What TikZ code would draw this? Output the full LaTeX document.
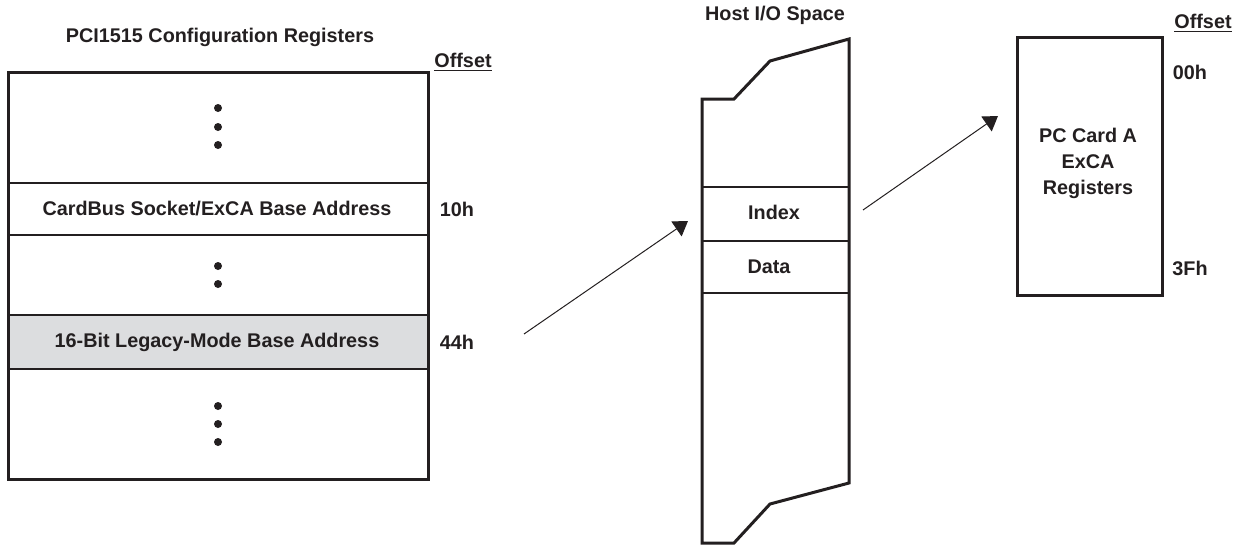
\documentclass[tikz,border=0pt]{standalone}
\usepackage{fontspec}
\setmainfont{Liberation Sans}
\usepackage{tikz}
\usetikzlibrary{arrows.meta,positioning}
\definecolor{ink}{RGB}{35,31,32}
\definecolor{legacy}{RGB}{220,221,223}
\tikzset{lbl/.style={font=\fontsize{9.9}{13}\selectfont\bfseries,text=ink,inner sep=0pt},
         frame/.style={draw=ink,line width=1.5pt,line join=miter},
         sep/.style={draw=ink,line width=1pt},
         link/.style={draw=ink,line width=0.5pt,-{Triangle[length=7pt,width=9pt]}}
}

\begin{document}
\begin{tikzpicture}[x=0.5pt,y=-0.5pt]
  \useasboundingbox (0,0) rectangle (1238,546);
  % configuration registers
  \node[lbl] (cfgtitle) at (220,37) {PCI1515 Configuration Registers};
  \node[lbl] (offl) at (463,62) {\underline{Offset}};
  \fill[legacy] (8,315) rectangle (428,369);
  \foreach \y in {183,235,315,369}
    \draw[sep] (8,\y) -- (428,\y);
  \draw[frame] (8,72) rectangle (428,479);
  \foreach \y in {108,127,145,266,284,406,424,442}
    \fill[ink] (218,\y) circle (2pt);
  \node[lbl] (cardbus) at (217,209) {CardBus Socket/ExCA Base Address};
  \node[lbl] (legacy) at (217,342) {16-Bit Legacy-Mode Base Address};
  \node[lbl] (off10) at (457,209) {10h};
  \node[lbl] (off44) at (457,342) {44h};
  % host i/o space
  \node[lbl] (hosttitle) at (775,15) {Host I/O Space};
  \draw[frame] (702,99) -- (734,99) -- (770,61) -- (849,39) -- (849,483)
    -- (770,504) -- (734,543) -- (702,543) -- cycle;
  \foreach \y in {187,241,293}
    \draw[sep] (702,\y) -- (849,\y);
  \node[lbl] (index) at (774,212) {Index};
  \node[lbl] (data) at (769,267) {Data};
  % exca registers
  \node[lbl] (offr) at (1203,23) {\underline{Offset}};
  \draw[frame] (1017,37) rectangle (1162,295);
  \node[lbl,align=center] (exca) at (1088,163) {PC Card A\\ExCA\\Registers};
  \node[lbl] (off00) at (1190,72) {00h};
  \node[lbl] (off3f) at (1190,268) {3Fh};
  % arrows
  \coordinate (a) at (524,334);
  \coordinate (b) at (688,221);
  \coordinate (c) at (863,210);
  \coordinate (d) at (998,116);
  \draw[link] (a) -- (b);
  \draw[link] (c) -- (d);
\end{tikzpicture}
\end{document}
